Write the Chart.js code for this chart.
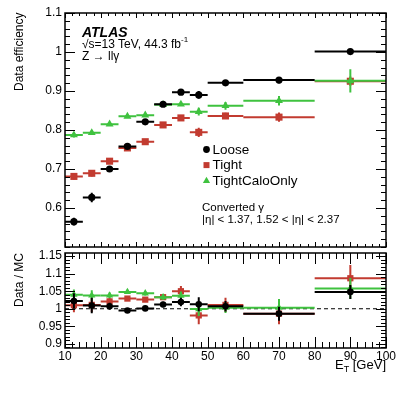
<!DOCTYPE html>
<html>
<head>
<meta charset="utf-8">
<script src="https://cdn.jsdelivr.net/npm/chart.js@4.4.0/dist/chart.umd.min.js"></script>
<style>
  html, body { margin:0; padding:0; background:#fff; }
  #wrap { position:relative; width:407px; height:395px; font-family:"Liberation Sans", Arial, sans-serif; color:#000; }
  canvas { position:absolute; left:0; }
  .t { position:absolute; white-space:nowrap; }
  .rot { position:absolute; white-space:nowrap; transform-origin:0 0; transform:rotate(-90deg); text-align:right; font-size:12px; line-height:14px; height:14px; }
  sup { font-size:8px; vertical-align:6px; line-height:0; }
  sub { font-size:9px; vertical-align:-3px; line-height:0; }
</style>
</head>
<body>
<div id="wrap">
  <canvas id="effChart" width="407" height="250" style="top:0"></canvas>
  <canvas id="ratioChart" width="407" height="145" style="top:250px"></canvas>

  <div class="rot" style="left:12px; top:91px; width:78px;">Data efficiency</div>
  <div class="rot" style="left:12px; top:311px; width:58px;">Data / MC</div>

  <div class="t" style="left:82px; top:25px; font-size:14px; line-height:14px; font-weight:bold; font-style:italic;">ATLAS</div>
  <div class="t" style="left:82px; top:37px; font-size:12px; line-height:14px;">&radic;s=13 TeV, 44.3 fb<sup>-1</sup></div>
  <div class="t" style="left:82px; top:49px; font-size:12px; line-height:14px;">Z &rarr; ll&gamma;</div>

  <div class="t" style="left:202px; top:201px; font-size:11.5px; line-height:13px;">Converted &gamma;</div>
  <div class="t" style="left:202px; top:213px; font-size:11.5px; line-height:13px;">|&eta;| &lt; 1.37, 1.52 &lt; |&eta;| &lt; 2.37</div>

  <div class="t" style="right:21px; top:357px; font-size:13px; line-height:16px;">E<sub>T</sub> [GeV]</div>
</div>

<script>
/* ── 데이터 ─────────────────────────────────────────────── */
var binLo  = [10, 15, 20, 25, 30, 35, 40, 45, 50, 60, 80];
var binHi  = [15, 20, 25, 30, 35, 40, 45, 50, 60, 80, 100];
var binMid = [12.5, 17.5, 22.5, 27.5, 32.5, 37.5, 42.5, 47.5, 55, 70, 90];

var effLoose    = [0.565, 0.627, 0.700, 0.758, 0.821, 0.866, 0.897, 0.890, 0.921, 0.928, 1.001];
var effLooseErr = [0.010, 0.012, 0.005, 0.005, 0.005, 0.004, 0.004, 0.010, 0.006, 0.008, 0.004];
var effTight    = [0.681, 0.689, 0.720, 0.754, 0.770, 0.813, 0.831, 0.794, 0.836, 0.833, 0.925];
var effTightErr = [0.008, 0.008, 0.005, 0.005, 0.004, 0.004, 0.005, 0.012, 0.008, 0.012, 0.012];
var effCalo     = [0.787, 0.793, 0.815, 0.835, 0.838, 0.865, 0.866, 0.847, 0.862, 0.875, 0.926];
var effCaloErr  = [0.006, 0.006, 0.004, 0.004, 0.004, 0.004, 0.004, 0.010, 0.010, 0.012, 0.030];

var ratioLoose    = [1.022, 1.009, 1.007, 0.995, 1.001, 1.012, 1.019, 1.013, 1.007, 0.986, 1.048];
var ratioLooseErr = [0.022, 0.022, 0.010, 0.005, 0.005, 0.008, 0.012, 0.020, 0.015, 0.020, 0.020];
var ratioTight    = [1.010, 1.011, 1.021, 1.029, 1.026, 1.033, 1.050, 0.981, 1.011, 0.986, 1.087];
var ratioTightErr = [0.020, 0.020, 0.010, 0.006, 0.006, 0.008, 0.015, 0.025, 0.020, 0.030, 0.038];
var ratioCalo     = [1.040, 1.038, 1.038, 1.048, 1.044, 1.033, 1.037, 0.999, 1.003, 1.003, 1.058];
var ratioCaloErr  = [0.015, 0.015, 0.008, 0.006, 0.006, 0.008, 0.012, 0.020, 0.015, 0.025, 0.030];

var xTickValues     = [10, 20, 30, 40, 50, 60, 70, 80, 90, 100];
var effTickValues   = [0.6, 0.7, 0.8, 0.9, 1, 1.1];
var ratioTickValues = [0.9, 0.95, 1, 1.05, 1.1, 1.15];

var seriesNames = ['Loose', 'Tight', 'TightCaloOnly'];

/* ── 스타일 ─────────────────────────────────────────────── */
var BLACK = '#000000', RED = '#c23b30', GREEN = '#3fc23f';
var FONT = '"Liberation Sans", Arial, sans-serif';

function makeSet(label, vals, errs, color, style, radius, order) {
  return {
    label: label,
    data: vals.map(function(v, i) { return { x: binMid[i], y: v }; }),
    xLo: binLo, xHi: binHi, yErr: errs,
    borderColor: color, backgroundColor: color,
    pointStyle: style, pointRadius: radius, pointHoverRadius: radius,
    pointBorderWidth: 0, showLine: false, order: order
  };
}

/* ── 오차막대 ───────────────────────────────────────────── */
var errBars = {
  id: 'errBars',
  beforeDatasetDraw: function(chart, args) {
    var ds = chart.data.datasets[args.index];
    var ctx = chart.ctx, x = chart.scales.x, y = chart.scales.y, a = chart.chartArea;
    ctx.save();
    ctx.beginPath(); ctx.rect(a.left, a.top, a.right - a.left, a.bottom - a.top); ctx.clip();
    ctx.strokeStyle = ds.borderColor; ctx.lineWidth = 2;
    ds.data.forEach(function(p, i) {
      var py = y.getPixelForValue(p.y), px = x.getPixelForValue(p.x);
      ctx.beginPath();
      ctx.moveTo(x.getPixelForValue(ds.xLo[i]), py);
      ctx.lineTo(x.getPixelForValue(ds.xHi[i]), py);
      ctx.moveTo(px, y.getPixelForValue(p.y - ds.yErr[i]));
      ctx.lineTo(px, y.getPixelForValue(p.y + ds.yErr[i]));
      ctx.stroke();
    });
    ctx.restore();
  }
};

/* ── 프레임 + 안쪽 눈금 ─────────────────────────────────── */
function isMajor(v, list) {
  return list.some(function(t) { return Math.abs(t - v) < 1e-6; });
}
var frame = {
  id: 'frame',
  beforeDatasetsDraw: function(chart, args, o) {
    if (o.refLine == null) return;
    var ctx = chart.ctx, a = chart.chartArea, py = chart.scales.y.getPixelForValue(o.refLine);
    ctx.save();
    ctx.strokeStyle = '#000'; ctx.lineWidth = 1.2; ctx.setLineDash([4, 3]);
    ctx.beginPath(); ctx.moveTo(a.left, py); ctx.lineTo(a.right, py); ctx.stroke();
    ctx.restore();
  },
  afterDraw: function(chart, args, o) {
    var ctx = chart.ctx, a = chart.chartArea, x = chart.scales.x, y = chart.scales.y;
    ctx.save();
    ctx.strokeStyle = '#000'; ctx.lineWidth = 1;
    ctx.beginPath();
    var v, k, len, p;
    for (k = Math.ceil(x.min / o.xStep - 1e-6); k * o.xStep <= x.max + 1e-6; k++) {
      v = k * o.xStep;
      len = isMajor(v, o.xMajors) ? o.xMaj : o.xMin;
      p = Math.round(x.getPixelForValue(v)) + 0.5;
      ctx.moveTo(p, a.bottom); ctx.lineTo(p, a.bottom - len);
      ctx.moveTo(p, a.top); ctx.lineTo(p, a.top + len);
    }
    for (k = Math.ceil(y.min / o.yStep - 1e-6); k * o.yStep <= y.max + 1e-6; k++) {
      v = k * o.yStep;
      len = isMajor(v, o.yMajors) ? o.yMaj : o.yMin;
      p = Math.round(y.getPixelForValue(v)) + 0.5;
      ctx.moveTo(a.left, p); ctx.lineTo(a.left + len, p);
      ctx.moveTo(a.right, p); ctx.lineTo(a.right - len, p);
    }
    ctx.stroke();
    ctx.lineWidth = 1.5;
    ctx.strokeRect(a.left, a.top, a.right - a.left, a.bottom - a.top);
    ctx.restore();
  }
};

/* ── 범례 ───────────────────────────────────────────────── */
var legendBox = {
  id: 'legendBox',
  afterDatasetsDraw: function(chart, args, o) {
    if (!o.rows) return;
    var ctx = chart.ctx;
    ctx.save();
    ctx.font = o.fontSize + 'px ' + FONT;
    ctx.textBaseline = 'middle';
    o.rows.forEach(function(r, i) {
      var ds = chart.data.datasets[r.index];
      var cx = o.x, cy = o.y + i * o.gap;
      ctx.fillStyle = ds.backgroundColor;
      ctx.beginPath();
      if (ds.pointStyle === 'circle') {
        ctx.arc(cx, cy, 3.4, 0, Math.PI * 2);
      } else if (ds.pointStyle === 'rect') {
        ctx.rect(cx - 3, cy - 3, 6, 6);
      } else {
        ctx.moveTo(cx, cy - 4); ctx.lineTo(cx + 3.6, cy + 2.4); ctx.lineTo(cx - 3.6, cy + 2.4); ctx.closePath();
      }
      ctx.fill();
      ctx.fillStyle = '#000';
      ctx.fillText(ds.label, cx + 6, cy + 0.5);
    });
    ctx.restore();
  }
};

function tickLabel(v) { return String(+Number(v).toFixed(2)); }

// y축 라벨 때문에 생기는 자동 여백 제거
function fixYAxis(s) { s.width = 65; s.paddingTop = 0; s.paddingBottom = 0; }

/* ── 위쪽: 데이터 효율 ──────────────────────────────────── */
new Chart(document.getElementById('effChart'), {
  type: 'scatter',
  data: {
    datasets: [
      makeSet(seriesNames[0], effLoose, effLooseErr, BLACK, 'circle', 3.6, 0),
      makeSet(seriesNames[1], effTight, effTightErr, RED, 'rect', 5, 2),
      makeSet(seriesNames[2], effCalo,  effCaloErr,  GREEN, 'triangle', 4.6, 1)
    ]
  },
  plugins: [errBars, frame, legendBox],
  options: {
    responsive: false, animation: false, devicePixelRatio: 1,
    layout: { autoPadding: false, padding: { top: 13, right: 21, bottom: 3, left: 0 } },
    plugins: {
      legend: { display: false }, tooltip: { enabled: false },
      frame: { xStep: 2, xMajors: xTickValues, xMaj: 5, xMin: 3,
               yStep: 0.02, yMajors: effTickValues, yMaj: 10, yMin: 5 },
      legendBox: { x: 206.5, y: 149.5, gap: 15.6, fontSize: 13.5,
                   rows: [{ index: 0 }, { index: 1 }, { index: 2 }] }
    },
    scales: {
      x: { type: 'linear', min: 10, max: 100, display: false,
           afterBuildTicks: function(s) { s.ticks = xTickValues.map(function(v) { return { value: v }; }); } },
      y: { type: 'linear', min: 0.5, max: 1.1,
           afterBuildTicks: function(s) { s.ticks = effTickValues.map(function(v) { return { value: v }; }); },
           afterFit: fixYAxis,
           grid: { display: false, drawTicks: false }, border: { display: false },
           ticks: { color: '#000', padding: 3, font: { family: FONT, size: 12 }, callback: tickLabel } }
    }
  }
});

/* ── 아래쪽: Data / MC ─────────────────────────────────── */
new Chart(document.getElementById('ratioChart'), {
  type: 'scatter',
  data: {
    datasets: [
      makeSet(seriesNames[0], ratioLoose, ratioLooseErr, BLACK, 'circle', 3.3, 0),
      makeSet(seriesNames[1], ratioTight, ratioTightErr, RED, 'rect', 4.4, 2),
      makeSet(seriesNames[2], ratioCalo,  ratioCaloErr,  GREEN, 'triangle', 4.2, 1)
    ]
  },
  plugins: [errBars, frame],
  options: {
    responsive: false, animation: false, devicePixelRatio: 1,
    layout: { autoPadding: false, padding: { top: 3, right: 21, bottom: 0, left: 0 } },
    plugins: {
      legend: { display: false }, tooltip: { enabled: false },
      frame: { refLine: 1, xStep: 2, xMajors: xTickValues, xMaj: 11, xMin: 6,
               yStep: 0.01, yMajors: ratioTickValues, yMaj: 10, yMin: 5 }
    },
    scales: {
      x: { type: 'linear', min: 10, max: 100,
           afterBuildTicks: function(s) { s.ticks = xTickValues.map(function(v) { return { value: v }; }); },
           afterFit: function(s) { s.height = 47; },
           grid: { display: false, drawTicks: false }, border: { display: false },
           ticks: { color: '#000', padding: 1, maxRotation: 0, autoSkip: false,
                    font: { family: FONT, size: 12 }, callback: tickLabel } },
      y: { type: 'linear', min: 0.888, max: 1.159,
           afterBuildTicks: function(s) { s.ticks = ratioTickValues.map(function(v) { return { value: v }; }); },
           afterFit: fixYAxis,
           grid: { display: false, drawTicks: false }, border: { display: false },
           ticks: { color: '#000', padding: 3, font: { family: FONT, size: 12 }, callback: tickLabel } }
    }
  }
});
</script>
</body>
</html>
